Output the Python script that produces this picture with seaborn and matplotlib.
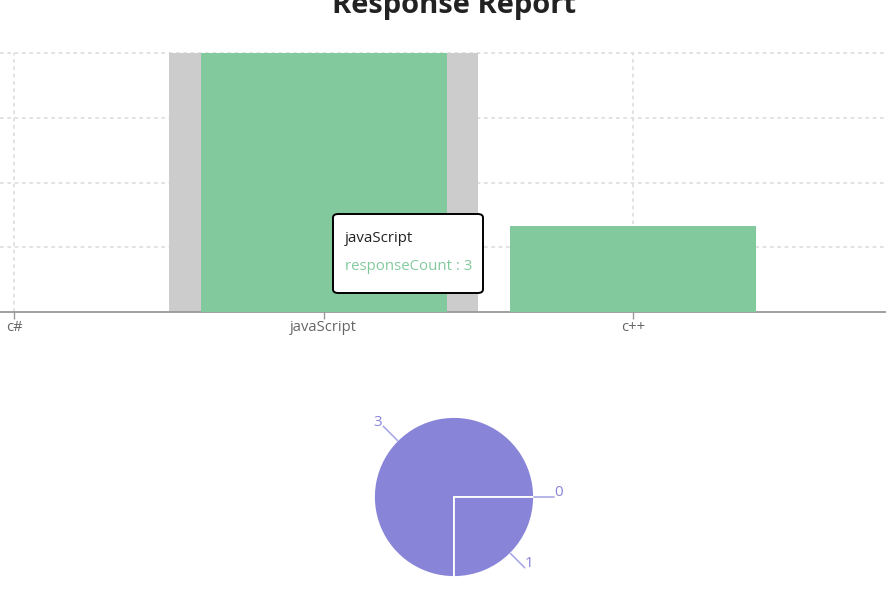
import matplotlib
matplotlib.use("Agg")
import matplotlib.pyplot as plt
import seaborn as sns
import numpy as np
import pandas as pd
from matplotlib.patches import FancyBboxPatch

categories = ["c#", "javaScript", "c++"]
response_count = [0, 3, 1]
y_ticks = [0, 0.75, 1.5, 2.25, 3]
title_text = "Response Report"
series_name = "responseCount"
hover_index = 1

BAR_COLOR = "#82ca9d"
PIE_COLOR = "#8884d8"

sns.set_theme(style="white")
plt.rcParams["font.family"] = ["Open Sans", "DejaVu Sans"]

W, H = 886, 609
fig = plt.figure(figsize=(W / 100, H / 100), dpi=100)

def px_box(x0, y_top, w, h):
    return [x0 / W, (H - y_top - h) / H, w / W, h / H]

# ---------------- Bar chart ----------------
band = 309.5
x_left = 14 / band
x_right = (W - 14) / band
ax = fig.add_axes(px_box(0, 53, W, 259))
df = pd.DataFrame({"name": categories, "value": response_count})
sns.barplot(data=df, x="name", y="value", order=categories, color=BAR_COLOR,
            saturation=1, width=246 / band, ax=ax, zorder=3, linewidth=0)
ax.set_xlim(-x_left, x_right)
ax.set_ylim(0, max(y_ticks))
ax.set_yticks(y_ticks)
ax.set_yticklabels([])
ax.tick_params(axis="y", length=0)
ax.set_xlabel("")
ax.set_ylabel("")

# hover cursor
ax.axvspan(hover_index - 0.5, hover_index + 0.5, color="#cccccc", zorder=1, lw=0)

# grid
for yt in y_ticks[1:]:
    ax.axhline(yt, color="#dddddd", lw=1.2, ls=(0, (2.2, 2.2)), zorder=0.5, clip_on=False)
for i in range(len(categories)):
    ax.axvline(i, color="#dddddd", lw=1.2, ls=(0, (2.2, 2.2)), zorder=0.5)

for s in ["top", "right", "left"]:
    ax.spines[s].set_visible(False)
ax.spines["bottom"].set_color("#999999")
ax.spines["bottom"].set_linewidth(1.3)
ax.tick_params(axis="x", length=5, width=1, color="#999999", labelcolor="#666666",
               labelsize=10.6, pad=1, bottom=True)
ax.set_xticks(range(len(categories)))
ax.set_xticklabels(categories)

# title
fig.text(454 / W, (H - 13) / H, title_text, ha="center", va="baseline",
         fontsize=21, fontweight="bold", color="#222222")

# tooltip
tt = FancyBboxPatch((333 / W, (H - 293) / H), 150 / W, 79 / H,
                    boxstyle="round,pad=0,rounding_size=0.006",
                    transform=fig.transFigure, facecolor="white",
                    edgecolor="black", lw=1.4, zorder=10)
fig.add_artist(tt)
fig.text(345 / W, (H - 239) / H, categories[hover_index], ha="left", va="center",
         fontsize=10.8, color="#222222", zorder=11)
fig.text(345 / W, (H - 266) / H, f"{series_name} : {response_count[hover_index]}",
         ha="left", va="center", fontsize=10.8, color=BAR_COLOR, zorder=11)

# ---------------- Pie chart ----------------
pax = fig.add_axes(px_box(454 - 120, 497 - 120, 240, 240))
wedges, _ = pax.pie(response_count, startangle=0, counterclock=True,
                    colors=[PIE_COLOR] * len(response_count),
                    wedgeprops=dict(edgecolor="white", linewidth=1.3),
                    radius=1)
pax.set_xlim(-1.5, 1.5)
pax.set_ylim(-1.5, 1.5)
pax.set_aspect("equal")
pax.axis("off")
for w, v in zip(wedges, response_count):
    ang = np.deg2rad((w.theta1 + w.theta2) / 2)
    c, s = np.cos(ang), np.sin(ang)
    x1, y1 = 1.0 * c, 1.0 * s
    x2, y2 = 1.25 * c, 1.25 * s
    pax.plot([x1, x2], [y1, y2], color="#aaa8e8", lw=1.2, clip_on=False)
    if c >= 0:
        tx, ty, ha = x2 + 0.0, y2 + 0.05, "left"
    else:
        tx, ty, ha = x2 - 0.02, y2 + 0.05, "right"
    pax.text(tx, ty, str(v), ha=ha, va="center", fontsize=11,
             color=PIE_COLOR, clip_on=False)

fig.savefig("out.png", dpi=100)
